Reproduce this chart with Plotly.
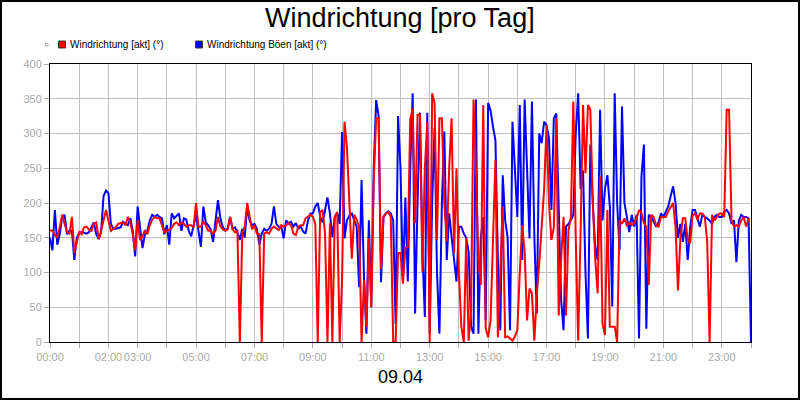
import plotly.graph_objects as go
import pandas as pd

# ---------------- data (5-minute samples, 09.04) ----------------
start_time = "2024-04-09 00:00"
step = "5min"

boeen = [  # Windrichtung Böen [akt] (°)  – blue
    150, 132, 190, 140, 155, 180, 183, 155, 160, 160, 118, 150,
    156, 158, 157, 156, 158, 166, 172, 155, 148, 158, 210, 218,
    214, 170, 163, 163, 164, 165, 173, 170, 168, 178, 160, 123,
    195, 165, 135, 155, 160, 175, 183, 180, 183, 180, 178, 155,
    168, 140, 185, 178, 182, 185, 160, 178, 176, 160, 152, 170,
    183, 160, 137, 195, 172, 168, 162, 144, 170, 204, 178, 165,
    161, 163, 180, 163, 165, 158, 147, 163, 150, 195, 175, 168,
    170, 163, 140, 156, 163, 160, 163, 170, 195, 170, 166, 166,
    149, 175, 171, 173, 166, 171, 163, 166, 159, 156, 175, 185,
    185, 195, 200, 180, 172, 190, 208, 185, 151, 180, 186, 170,
    302, 149, 175, 182, 185, 175, 166, 79, 233, 94, 12, 175,
    50, 250, 348, 325, 86, 180, 185, 188, 185, 175, 26, 325,
    250, 89, 208, 87, 250, 358, 41, 200, 330, 130, 36, 330,
    12, 200, 308, 100, 12, 200, 303, 118, 185, 151, 120, 87,
    166, 166, 156, 150, 130, 22, 12, 349, 12, 150, 180, 31,
    344, 333, 310, 290, 120, 17, 240, 175, 151, 17, 317, 250,
    180, 341, 118, 349, 250, 149, 346, 150, 41, 300, 286, 317,
    312, 293, 190, 322, 329, 200, 60, 17, 166, 170, 175, 183,
    300, 358, 220, 247, 100, 5, 284, 200, 137, 118, 334, 175,
    220, 240, 195, 51, 358, 200, 132, 339, 200, 180, 158, 183,
    166, 183, 5, 238, 284, 19, 183, 180, 172, 166, 172, 185,
    180, 187, 195, 210, 224, 200, 150, 170, 144, 170, 118, 165,
    190, 190, 178, 166, 183, 180, 178, 175, 170, 180, 183, 180,
    180, 187, 190, 185, 170, 175, 115, 175, 183, 180, 180, 178,
    0,
]

richtung = [  # Windrichtung [akt] (°)  – red
    161, 160, 154, 150, 165, 183, 170, 158, 156, 180, 128, 145,
    159, 155, 165, 166, 162, 160, 170, 172, 148, 160, 175, 190,
    175, 160, 163, 165, 170, 171, 172, 168, 180, 172, 155, 132,
    175, 147, 152, 161, 155, 168, 176, 180, 178, 178, 168, 158,
    160, 162, 164, 170, 172, 168, 172, 170, 166, 168, 168, 165,
    200, 166, 166, 173, 168, 160, 160, 156, 160, 180, 166, 162,
    160, 162, 180, 162, 158, 160, 0, 158, 165, 200, 178, 162,
    168, 156, 155, 0, 156, 158, 156, 163, 166, 163, 161, 168,
    166, 168, 171, 168, 156, 154, 166, 168, 168, 178, 180, 183,
    180, 170, 0, 187, 190, 156, 0, 171, 0, 180, 187, 0,
    90, 317, 280, 200, 120, 183, 176, 166, 0, 89, 22, 149,
    50, 230, 322, 322, 105, 180, 185, 187, 180, 0, 0, 128,
    128, 84, 135, 137, 320, 336, 171, 327, 327, 101, 250, 317,
    0, 358, 344, 147, 322, 322, 200, 144, 250, 322, 127, 250,
    100, 22, 0, 150, 2, 46, 349, 250, 120, 82, 341, 20,
    7, 31, 150, 262, 7, 118, 195, 7, 8, 5, 2, 8,
    17, 100, 168, 130, 31, 77, 70, 2, 70, 113, 170, 219,
    312, 200, 147, 165, 322, 38, 120, 180, 38, 160, 180, 346,
    150, 2, 159, 341, 243, 341, 334, 200, 120, 70, 238, 26,
    10, 190, 22, 22, 22, 0, 175, 170, 178, 168, 172, 168,
    171, 178, 190, 186, 171, 166, 82, 183, 180, 168, 166, 180,
    180, 180, 188, 195, 200, 166, 74, 149, 178, 178, 147, 142,
    182, 185, 176, 185, 185, 180, 145, 0, 183, 175, 180, 185,
    185, 180, 334, 334, 175, 166, 168, 166, 175, 180, 166, 178,
    None,
]

tick_hours = list(range(25))
labelled_hours = [0, 2, 3, 5, 7, 9, 11, 13, 15, 17, 19, 21, 23]
y_ticks = [0, 50, 100, 150, 200, 250, 300, 350, 400]

title_text = "Windrichtung [pro Tag]"
date_label = "09.04"
name_red = "Windrichtung [akt] (°)"
name_blue = "Windrichtung Böen [akt] (°)"

# ---------------- figure ----------------
times = pd.date_range(start_time, periods=len(boeen), freq=step)
day0 = pd.Timestamp(start_time)
tickvals = [day0 + pd.Timedelta(hours=h) for h in tick_hours]
ticktext = [(f"{h:02d}:00" if h in labelled_hours else "") for h in tick_hours]

FONT = "Liberation Sans, Arial, sans-serif"
W, H = 800, 400
ML, MR, MT, MB = 50, 49, 64, 58
PW, PH = W - ML - MR, H - MT - MB


def px_x(px):
    return (px - ML) / PW


def px_y(py):
    return (H - MB - py) / PH


fig = go.Figure()
fig.add_trace(go.Scatter(x=times, y=boeen, mode="lines", name=name_blue,
                         line=dict(color="#0000ff", width=2)))
fig.add_trace(go.Scatter(x=times, y=richtung, mode="lines", name=name_red,
                         line=dict(color="#ff0000", width=2)))

fig.update_layout(
    width=W, height=H,
    margin=dict(l=ML, r=MR, t=MT, b=MB, pad=0),
    paper_bgcolor="white", plot_bgcolor="white",
    showlegend=False,
    font=dict(family=FONT, size=11, color="#aaaaaa"),
)

fig.update_xaxes(
    type="date",
    range=[tickvals[0], tickvals[-1]],
    tickmode="array", tickvals=tickvals, ticktext=ticktext,
    tickangle=0,
    showgrid=True, gridcolor="#c0c0c0", gridwidth=1,
    showline=True, linecolor="black", linewidth=1, mirror=True,
    ticks="outside", ticklen=5, tickcolor="#aaaaaa",
    tickfont=dict(family=FONT, size=11, color="#aaaaaa"),
    zeroline=False,
)
fig.update_yaxes(
    range=[0, 400],
    tickmode="array", tickvals=y_ticks,
    showgrid=True, gridcolor="#c0c0c0", gridwidth=1,
    showline=True, linecolor="black", linewidth=1, mirror=True,
    ticks="outside", ticklen=5, tickcolor="#aaaaaa",
    tickfont=dict(family=FONT, size=11, color="#aaaaaa"),
    zeroline=False,
)

shapes = [
    # outer frame
    dict(type="rect", xref="paper", yref="paper",
         x0=px_x(1), x1=px_x(799), y0=px_y(399), y1=px_y(1),
         line=dict(color="black", width=2), fillcolor="rgba(0,0,0,0)", layer="above"),
    # tiny grey marker
    dict(type="rect", xref="paper", yref="paper",
         x0=px_x(45.5), x1=px_x(48), y0=px_y(46), y1=px_y(43.5),
         line=dict(color="#b0b0b0", width=1), fillcolor="white"),
    # legend squares
    dict(type="rect", xref="paper", yref="paper",
         x0=px_x(58.5), x1=px_x(65.5), y0=px_y(48), y1=px_y(41),
         line=dict(color="#333333", width=1), fillcolor="#ff0000"),
    dict(type="rect", xref="paper", yref="paper",
         x0=px_x(195.5), x1=px_x(202.5), y0=px_y(48), y1=px_y(41),
         line=dict(color="#333333", width=1), fillcolor="#0000ff"),
]
fig.update_layout(shapes=shapes)

annotations = [
    dict(text=title_text, xref="paper", yref="paper", x=px_x(400), y=px_y(18),
         xanchor="center", yanchor="middle", showarrow=False,
         font=dict(family=FONT, size=27, color="black")),
    dict(text=name_red, xref="paper", yref="paper", x=px_x(68), y=px_y(44.5),
         xanchor="left", yanchor="middle", showarrow=False,
         font=dict(family=FONT, size=10, color="black")),
    dict(text=name_blue, xref="paper", yref="paper", x=px_x(205), y=px_y(44.5),
         xanchor="left", yanchor="middle", showarrow=False,
         font=dict(family=FONT, size=10, color="black")),
    dict(text=date_label, xref="paper", yref="paper", x=px_x(400), y=px_y(377),
         xanchor="center", yanchor="middle", showarrow=False,
         font=dict(family=FONT, size=18, color="black")),
]
fig.update_layout(annotations=annotations)

fig.write_html("out.html")
